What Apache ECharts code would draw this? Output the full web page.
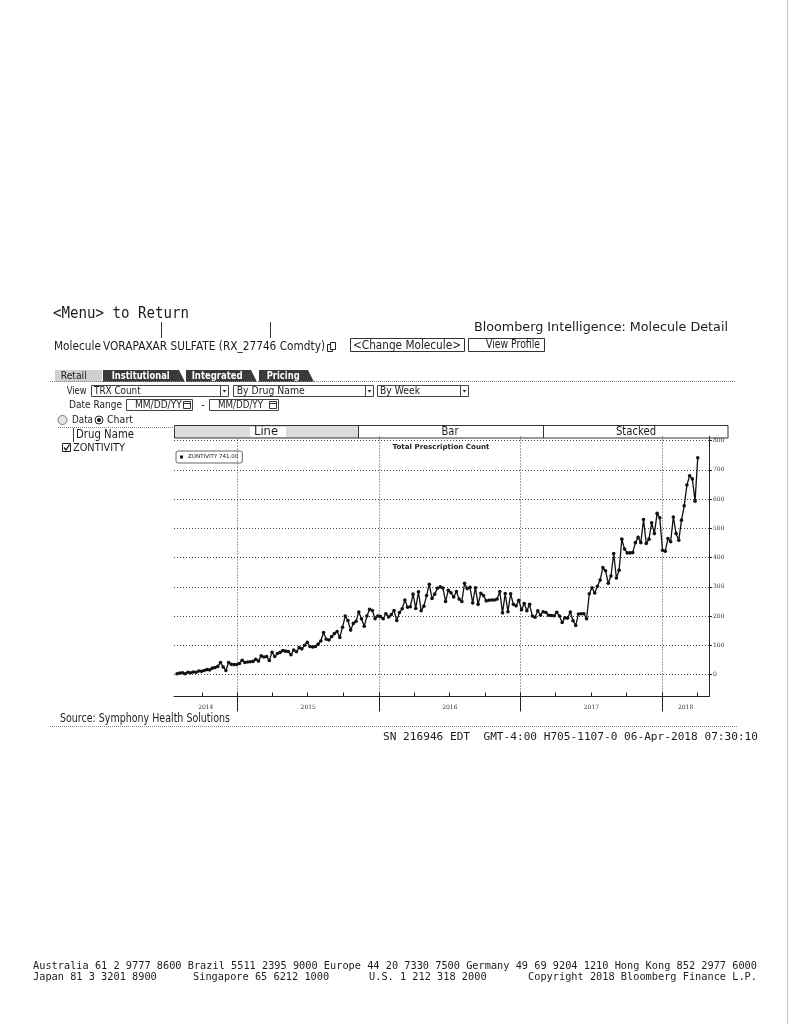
<!DOCTYPE html>
<html><head><meta charset="utf-8">
<script src="https://cdn.jsdelivr.net/npm/echarts@6/dist/echarts.min.js"></script>
<style>html,body{margin:0;padding:0;background:#fff}#c{width:792px;height:1024px}</style>
</head><body><div id="c"></div>
<script>
// ---------------- data ----------------
const drugName = 'ZONTIVITY';
const firstWeek = '2014-07-29';          // date of the first weekly point
const weeklyTrx = [
  3, 5, 6, 3, 8, 6, 9, 8, 12, 11,
  14, 17, 16, 22, 24, 28, 41, 26, 14, 41,
  35, 34, 34, 38, 49, 41, 43, 44, 45, 52,
  46, 64, 60, 62, 48, 76, 62, 72, 76, 82,
  80, 79, 68, 84, 78, 92, 88, 100, 110, 96,
  94, 96, 104, 115, 144, 121, 118, 130, 140, 147,
  127, 162, 200, 185, 152, 175, 182, 214, 191, 165,
  200, 223, 219, 191, 200, 198, 191, 208, 197, 205,
  219, 185, 212, 225, 255, 230, 232, 275, 226, 283,
  218, 234, 270, 309, 260, 275, 295, 300, 296, 250,
  288, 280, 265, 284, 258, 250, 312, 294, 298, 245,
  297, 240, 278, 270, 252, 254, 255, 255, 258, 284,
  211, 277, 215, 276, 240, 235, 254, 222, 243, 218,
  240, 200, 196, 218, 203, 215, 212, 203, 202, 201,
  213, 200, 178, 194, 193, 214, 184, 168, 207, 208,
  208, 191, 276, 297, 279, 302, 323, 366, 355, 312,
  337, 414, 330, 357, 463, 429, 416, 416, 417, 451,
  469, 451, 530, 448, 463, 519, 482, 551, 536, 425,
  422, 465, 454, 539, 482, 459, 528, 577, 648, 680,
  669, 593, 741
];
const yTickValues = [0, 100, 200, 300, 400, 500, 600, 700, 800];
const yearLabels = ['2014', '2015', '2016', '2017', '2018'];
const axisStart = '2014-07-21';
const axisEnd = '2018-05-02';
const yMin = -75, yMax = 814;

// ---------------- helpers ----------------
const DAY = 86400000;
const utc = s => Date.parse(s + 'T00:00:00Z');
const t0 = utc(firstWeek);
const seriesData = weeklyTrx.map((v, i) => [t0 + i * 7 * DAY, v]);
const lastVal = weeklyTrx[weeklyTrx.length - 1];
const xMin = utc(axisStart), xMax = utc(axisEnd);

const yearStarts = yearLabels.slice(1).map(y => Date.UTC(+y, 0, 1));
const yearLabelPos = yearLabels.map(y => {
  const a = Math.max(Date.UTC(+y, 0, 1), xMin), b = Math.min(Date.UTC(+y + 1, 0, 1), xMax);
  return Math.round((a + b) / 2);
});
const quarterTicks = [];
yearLabels.forEach(y => [0, 3, 6, 9].forEach(m => {
  const t = Date.UTC(+y, m, 1); if (t > xMin && t < xMax) quarterTicks.push(t);
}));

const SANS = '"DejaVu Sans"', MONO = '"DejaVu Sans Mono"', INK = '#1c1c1c';
const mctx = document.createElement('canvas').getContext('2d');
function natWidth(text, fam, wt, size) {
  mctx.font = wt + ' ' + size + 'px ' + fam;
  return mctx.measureText(text).width;
}
// text drawn at a given font size, squeezed/stretched horizontally to a target width
function T(text, x, y, w, size, o) {
  o = o || {};
  const fam = o.family || SANS, wt = o.weight || 'normal';
  const sx = w ? w / natWidth(text, fam, wt, size) : 1;
  const al = o.align || 'left';
  return { type: 'text', z: 20, x, y, scaleX: sx, scaleY: 1,
    style: { text, x: 0, y: 0, font: wt + ' ' + size + 'px ' + fam,
      fill: o.color || INK, textAlign: al, align: al,
      textVerticalAlign: 'middle', verticalAlign: 'middle' } };
}
function L(x1, y1, x2, y2, o) {
  o = o || {};
  return { type: 'line', z: 15, shape: { x1, y1, x2, y2 },
    style: { stroke: o.color || '#333', lineWidth: o.w || 1, lineDash: o.dash || null } };
}
function R(x, y, w, h, o) {
  o = o || {};
  return { type: 'rect', z: o.z || 12, shape: { x, y, width: w, height: h, r: o.r || 0 },
    style: { fill: o.fill || 'none', stroke: o.stroke || null, lineWidth: o.lw || 1 } };
}
function P(points, fill, z) { return { type: 'polygon', z: z || 12, shape: { points }, style: { fill } }; }
function C(cx, cy, r, o) {
  return { type: 'circle', z: 16, shape: { cx, cy, r }, style: { fill: o.fill || 'none', stroke: o.stroke || null, lineWidth: 1 } };
}
function dropArrow(x, y) { return P([[x - 2, y - 1], [x + 2, y - 1], [x, y + 1.5]], '#333', 16); }

const footer1 = 'Australia 61 2 9777 8600 Brazil 5511 2395 9000 Europe 44 20 7330 7500 Germany 49 69 9204 1210 Hong Kong 852 2977 6000';
const footSize = 10;
const footScale = 724 / natWidth(footer1, MONO, 'normal', footSize);
function F(text, x, y) {
  return { type: 'text', z: 20, x, y, scaleX: footScale,
    style: { text, x: 0, y: 0, font: footSize + 'px ' + MONO, fill: INK, textVerticalAlign: 'middle', verticalAlign: 'middle' } };
}

const g = [
  L(787.5, 0, 787.5, 1024, { color: '#c4c4c4' }),
  // header
  T('<Menu> to Return', 53, 314, 136, 15, { family: MONO }),
  L(161.5, 322, 161.5, 338), L(270.5, 322, 270.5, 338),
  T('Bloomberg Intelligence: Molecule Detail', 474, 328, 254, 13),
  T('Molecule', 54, 347, 47, 12),
  T('VORAPAXAR SULFATE (RX_27746 Comdty)', 103, 347, 222, 12.5),
  R(327.5, 344.5, 5, 7, { stroke: '#222', fill: '#fff' }),
  R(330.5, 342.5, 5, 7, { stroke: '#222', fill: '#fff', z: 13 }),
  R(350.5, 338.5, 114, 13, { stroke: '#333' }),
  T('<Change Molecule>', 353, 345.5, 108, 12),
  R(468.5, 338.5, 76, 13, { stroke: '#333' }),
  T('View Profile', 486, 345.5, 54, 11.5),
  L(50, 381.5, 735, 381.5, { color: '#888', dash: [1, 1] }),
  // tabs
  R(55, 370, 47, 12, { fill: '#cfcfcf' }),
  T('Retail', 60.7, 376.5, 26, 11),
  P([[103, 382], [103, 370], [179, 370], [185, 382]], '#3a3a3a'),
  T('Institutional', 111.7, 376.5, 58, 11, { weight: 'bold', color: '#fff' }),
  P([[186, 382], [186, 370], [251, 370], [257, 382]], '#3a3a3a'),
  T('Integrated', 191.7, 376.5, 51, 11, { weight: 'bold', color: '#fff' }),
  P([[259, 382], [259, 370], [308, 370], [314, 382]], '#3a3a3a'),
  T('Pricing', 266.7, 376.5, 33, 11, { weight: 'bold', color: '#fff' }),
  // view row
  T('View', 66.7, 391, 20, 11),
  R(91.5, 385.5, 137, 11, { stroke: '#444' }), L(220.5, 386, 220.5, 396, { color: '#444' }), dropArrow(224.5, 391),
  T('TRX Count', 94, 391, 46.7, 11),
  R(233.5, 385.5, 140, 11, { stroke: '#444' }), L(365.5, 386, 365.5, 396, { color: '#444' }), dropArrow(369.5, 391),
  T('By Drug Name', 236.7, 391, 68, 11),
  R(377.5, 385.5, 91, 11, { stroke: '#444' }), L(460.5, 386, 460.5, 396, { color: '#444' }), dropArrow(464.5, 391),
  T('By Week', 380, 391, 40, 11),
  // date range
  T('Date Range', 69, 405, 53, 11),
  R(126.5, 399.5, 66, 11, { stroke: '#444' }), R(183.5, 401.5, 7, 7, { stroke: '#333' }), L(183.5, 403.5, 190.5, 403.5),
  T('MM/DD/YY', 135, 405, 46.7, 10.5),
  T('-', 201, 405, 0, 11),
  R(209.5, 399.5, 69, 11, { stroke: '#444' }), R(269.5, 401.5, 7, 7, { stroke: '#333' }), L(269.5, 403.5, 276.5, 403.5),
  T('MM/DD/YY', 218, 405, 45, 10.5),
  // radios
  C(62.5, 420, 4.5, { stroke: '#777', fill: '#e4e4e4' }),
  T('Data', 72, 420, 21, 11),
  C(99, 420, 4, { stroke: '#222', fill: '#fff' }), C(99, 420, 2, { fill: '#111' }),
  T('Chart', 107, 420, 26, 11),
  L(58, 427.5, 175, 427.5, { color: '#888', dash: [1, 1] }),
  // drug list
  L(73.5, 428, 73.5, 442, { color: '#444' }),
  T('Drug Name', 76, 435, 58, 13),
  R(62.5, 443.5, 8, 8, { stroke: '#222', fill: '#fff' }),
  { type: 'polyline', z: 17, shape: { points: [[64, 447.5], [66, 450], [69.5, 444.5]] }, style: { stroke: '#111', lineWidth: 1.3, fill: null } },
  T(drugName, 73, 448, 52, 11),
  // chart style tabs
  R(175, 426, 183, 12, { fill: '#dcdcdc', z: 11 }),
  R(250, 427, 36, 10, { fill: '#fff', z: 11 }),
  R(174.5, 425.5, 553.5, 12.5, { stroke: '#333' }),
  L(358.5, 426, 358.5, 438), L(543.5, 426, 543.5, 438),
  T('Line', 266, 432, 24, 12.5, { align: 'center' }),
  T('Bar', 450, 432, 17, 12.5, { align: 'center' }),
  T('Stacked', 636, 432, 40, 12.5, { align: 'center' }),
  T('Total Prescription Count', 441, 447, 97, 7, { weight: 'bold', align: 'center' }),
  // bottom texts
  T('Source: Symphony Health Solutions', 60, 719, 170, 11.5),
  L(50, 726.5, 738, 726.5, { color: '#888', dash: [1, 1] }),
  T('SN 216946 EDT  GMT-4:00 H705-1107-0 06-Apr-2018 07:30:10', 383, 737.5, 375, 10.5, { family: MONO }),
  F(footer1, 33, 966),
  F('Japan 81 3 3201 8900', 33, 977),
  F('Singapore 65 6212 1000', 193, 977),
  F('U.S. 1 212 318 2000', 369, 977),
  F('Copyright 2018 Bloomberg Finance L.P.', 528, 977)
];

const dotted = { color: '#444', type: [1, 2], width: 1 };
const chart = echarts.init(document.getElementById('c'), null, { renderer: 'canvas' });
chart.setOption({
  animation: false,
  backgroundColor: '#fff',
  textStyle: { fontFamily: SANS },
  grid: { left: 174, right: 83, top: 436.5, height: 260, containLabel: false },
  legend: {
    left: 176, top: 451, icon: 'rect', itemWidth: 3, itemHeight: 3, itemGap: 2,
    padding: [3, 4, 3, 4], borderColor: '#666', borderWidth: 1, borderRadius: 2,
    textStyle: { fontSize: 5.5, color: '#222' },
    formatter: n => n + ' ' + lastVal.toFixed(2),
    data: [drugName]
  },
  xAxis: [{
    type: 'value', min: xMin, max: xMax, position: 'bottom',
    axisLine: { show: true, onZero: false, lineStyle: { color: '#222', width: 1 } },
    axisTick: { show: true, inside: true, length: 4, customValues: quarterTicks, lineStyle: { color: '#222' } },
    axisLabel: { show: true, customValues: yearLabelPos, margin: 8, fontSize: 6, color: '#333',
      fontFamily: '"DejaVu Serif"', formatter: v => yearLabels[yearLabelPos.indexOf(v)] || '' },
    splitLine: { show: false }
  }, {
    type: 'value', min: xMin, max: xMax, position: 'bottom',
    axisLine: { show: false, onZero: false },
    axisTick: { show: true, inside: false, length: 15, customValues: yearStarts, lineStyle: { color: '#222' } },
    axisLabel: { show: false },
    splitLine: { show: true, lineStyle: dotted }
  }],
  yAxis: [{
    type: 'value', position: 'right', min: yMin, max: yMax,
    axisLine: { show: true, onZero: false, lineStyle: { color: '#222' } },
    axisTick: { show: true, inside: false, length: 3, customValues: yTickValues, lineStyle: { color: '#222' } },
    axisLabel: { show: true, customValues: yTickValues, margin: 4, fontSize: 6, color: '#333', fontFamily: '"DejaVu Serif"' },
    splitLine: { show: true, lineStyle: dotted }
  }],
  series: [{
    name: drugName, type: 'line', data: seriesData, xAxisIndex: 0, yAxisIndex: 0,
    showSymbol: true, showAllSymbol: true, symbol: 'circle', symbolSize: 3.6,
    lineStyle: { color: '#111', width: 1.3 }, itemStyle: { color: '#111' }
  }],
  graphic: { elements: g }
});
</script></body></html>
